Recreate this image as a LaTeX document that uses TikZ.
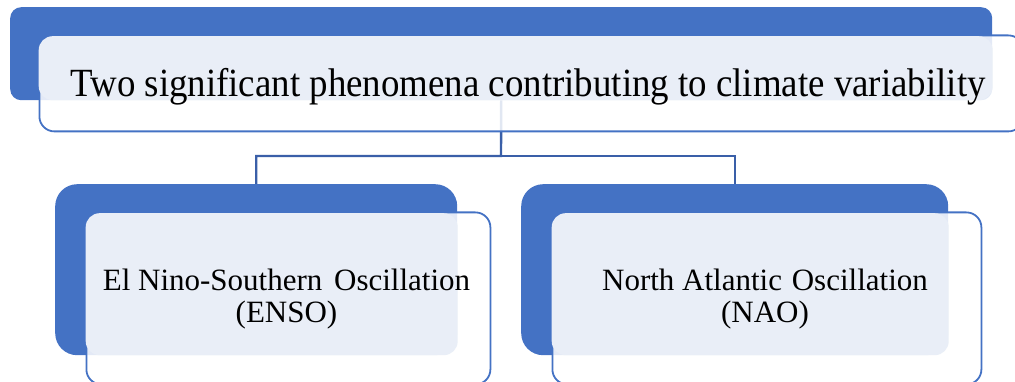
\documentclass[tikz,border=0pt]{standalone}
\usepackage{fontspec}
\setmainfont{Liberation Serif}
\definecolor{accent}{HTML}{4472C4}
\definecolor{lightfill}{HTML}{E9EEF7}
\definecolor{conn}{HTML}{3A5FA8}
\begin{document}
\begin{tikzpicture}[x=1pt,y=-1pt,
  bluebox/.style={fill=accent, draw=none, rounded corners=#1, anchor=north west, inner sep=0pt},
  lightbox/.style={fill=lightfill, draw=none, rounded corners=14pt, anchor=north west, inner sep=0pt},
  outlinebox/.style={draw=accent, line width=1.8pt, fill=white, fill opacity=0.85, text opacity=1, rounded corners=15pt, anchor=north west, inner sep=0pt},
  connector/.style={draw=conn, line width=2.4pt},
  lbl/.style={align=center, text=black, inner sep=0pt}]
\useasboundingbox (0,0) rectangle (1015,382);
% back blue boxes
\node[bluebox=11pt, minimum width=982pt, minimum height=93pt] (topblue) at (10,7) {};
\node[bluebox=22pt, minimum width=402pt, minimum height=171pt] (leftblue) at (55,184) {};
\node[bluebox=22pt, minimum width=427pt, minimum height=171pt] (rightblue) at (521,184) {};
% connectors
\coordinate (mid) at (501,156);
\draw[connector] (topblue.south) -- (mid) -| (leftblue.north);
\draw[connector] (mid) -| (rightblue.north);
% outline boxes
\node[outlinebox, minimum width=984pt, minimum height=96pt] (topout) at (38.5,34.5) {};
\node[outlinebox, minimum width=404pt, minimum height=172pt] (leftout) at (85.5,211.5) {};
\node[outlinebox, minimum width=429pt, minimum height=172pt] (rightout) at (551.5,211.5) {};
% light fills
\node[lightbox, minimum width=954pt, minimum height=64pt] (toplight) at (38.5,36) {};
\node[lightbox, minimum width=372pt, minimum height=142pt] (leftlight) at (85.5,213) {};
\node[lightbox, minimum width=397pt, minimum height=142pt] (rightlight) at (551.5,213) {};
% texts
\node[lbl, font=\fontsize{40}{44}\selectfont] (toptext) at (528,87) {\scalebox{0.922}[1]{Two significant phenomena contributing to climate variability}};
\node[lbl, font=\fontsize{31}{32}\selectfont] (lefttext) at (286.5,299.5) {El Nino-Southern\hspace{4pt} Oscillation\\(ENSO)};
\node[lbl, font=\fontsize{31}{32}\selectfont] (righttext) at (765,299.5) {North Atlantic\hspace{2pt} Oscillation\\(NAO)};
\end{tikzpicture}
\end{document}
